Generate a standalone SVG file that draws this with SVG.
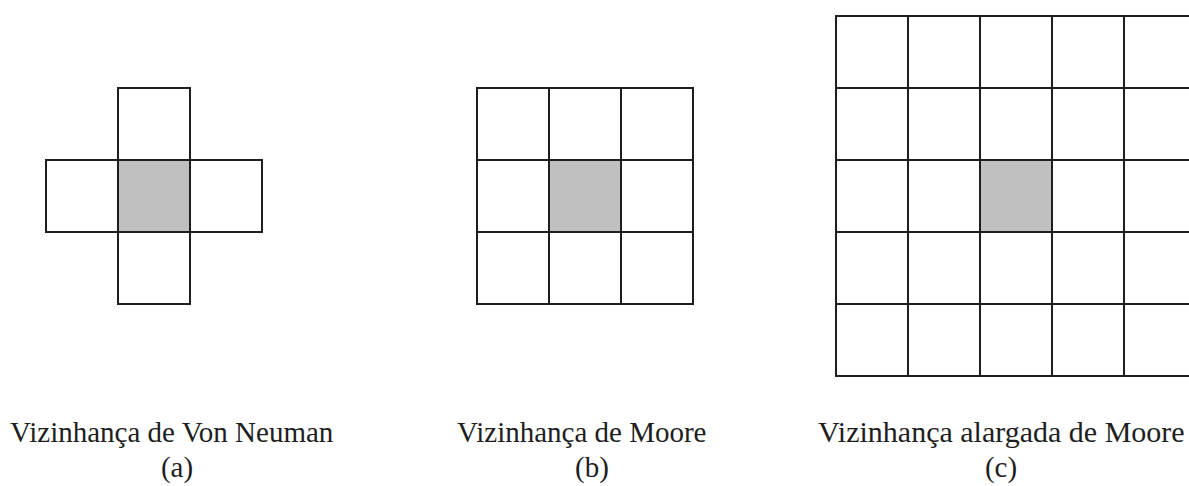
<svg xmlns="http://www.w3.org/2000/svg" width="1189" height="486" viewBox="0 0 1189 486">
<style>
.cell{fill:#ffffff;stroke:#1e1e1e;stroke-width:2}
.center{fill:#c0c0c0;stroke:#1e1e1e;stroke-width:2}
.cap{font-family:"Liberation Serif","Times New Roman",serif;font-size:29px;fill:#1e1e1e}
.wide{font-size:30px}
</style>
<rect width="1189" height="486" fill="#ffffff"/>
<g id="von-neuman">
<rect class="cell" x="118" y="88" width="72" height="72"/>
<rect class="cell" x="46" y="160" width="72" height="72"/>
<rect class="cell" x="190" y="160" width="72" height="72"/>
<rect class="cell" x="118" y="232" width="72" height="72"/>
<rect class="center" x="118" y="160" width="72" height="72"/>
</g>
<g id="moore">
<rect class="cell" x="477" y="88" width="72" height="72"/>
<rect class="cell" x="549" y="88" width="72" height="72"/>
<rect class="cell" x="621" y="88" width="72" height="72"/>
<rect class="cell" x="477" y="160" width="72" height="72"/>
<rect class="cell" x="621" y="160" width="72" height="72"/>
<rect class="cell" x="477" y="232" width="72" height="72"/>
<rect class="cell" x="549" y="232" width="72" height="72"/>
<rect class="cell" x="621" y="232" width="72" height="72"/>
<rect class="center" x="549" y="160" width="72" height="72"/>
</g>
<g id="moore-alargada">
<rect class="cell" x="836" y="16" width="72" height="72"/>
<rect class="cell" x="908" y="16" width="72" height="72"/>
<rect class="cell" x="980" y="16" width="72" height="72"/>
<rect class="cell" x="1052" y="16" width="72" height="72"/>
<rect class="cell" x="1124" y="16" width="72" height="72"/>
<rect class="cell" x="836" y="88" width="72" height="72"/>
<rect class="cell" x="908" y="88" width="72" height="72"/>
<rect class="cell" x="980" y="88" width="72" height="72"/>
<rect class="cell" x="1052" y="88" width="72" height="72"/>
<rect class="cell" x="1124" y="88" width="72" height="72"/>
<rect class="cell" x="836" y="160" width="72" height="72"/>
<rect class="cell" x="908" y="160" width="72" height="72"/>
<rect class="cell" x="1052" y="160" width="72" height="72"/>
<rect class="cell" x="1124" y="160" width="72" height="72"/>
<rect class="cell" x="836" y="232" width="72" height="72"/>
<rect class="cell" x="908" y="232" width="72" height="72"/>
<rect class="cell" x="980" y="232" width="72" height="72"/>
<rect class="cell" x="1052" y="232" width="72" height="72"/>
<rect class="cell" x="1124" y="232" width="72" height="72"/>
<rect class="cell" x="836" y="304" width="72" height="72"/>
<rect class="cell" x="908" y="304" width="72" height="72"/>
<rect class="cell" x="980" y="304" width="72" height="72"/>
<rect class="cell" x="1052" y="304" width="72" height="72"/>
<rect class="cell" x="1124" y="304" width="72" height="72"/>
<rect class="center" x="980" y="160" width="72" height="72"/>
</g>
<g id="connectors"></g>
<g id="captions">
<text class="cap" x="10" y="442">Vizinhança de Von Neuman</text>
<text class="cap" x="177" y="477" text-anchor="middle">(a)</text>
<text class="cap" x="457" y="442">Vizinhança de Moore</text>
<text class="cap" x="592" y="477" text-anchor="middle">(b)</text>
<text class="cap wide" x="818" y="442">Vizinhança alargada de Moore</text>
<text class="cap" x="1001" y="477" text-anchor="middle">(c)</text>
</g>
</svg>
